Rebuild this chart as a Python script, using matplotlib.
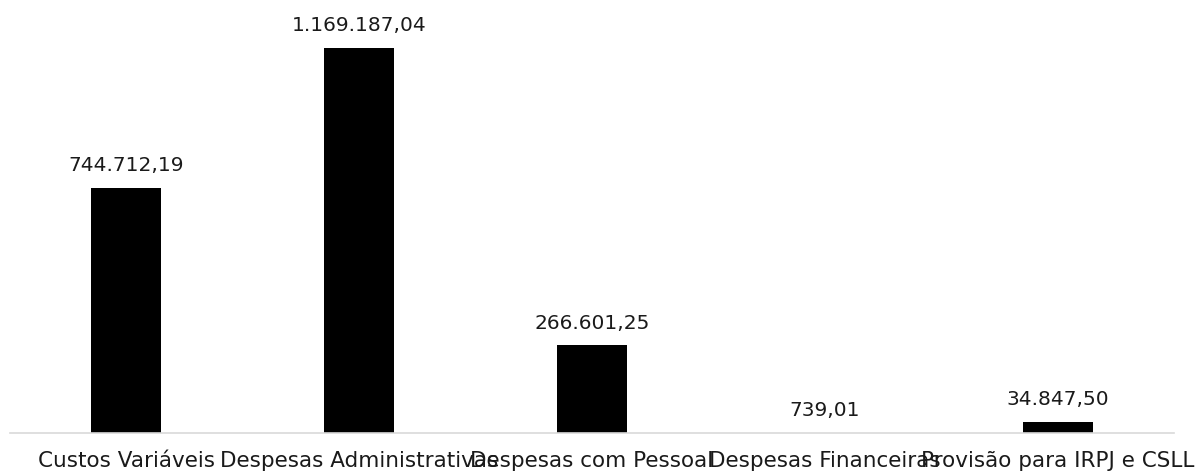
import matplotlib
matplotlib.use("Agg")
import matplotlib.pyplot as plt

categories = ["Custos Variáveis", "Despesas Administrativas", "Despesas com Pessoal",
              "Despesas Financeiras", "Provisão para IRPJ e CSLL"]
values = [744712.19, 1169187.04, 266601.25, 739.01, 34847.50]


def fmt_br(v):
    s = f"{v:,.2f}"
    return s.replace(",", "X").replace(".", ",").replace("X", ".")


plt.rcParams['font.family'] = ['DejaVu Sans']

fig = plt.figure(figsize=(12.02, 4.73), dpi=100)
ax = fig.add_axes([10 / 1202, 40 / 473, 1164 / 1202, 433 / 473])

x = range(len(categories))
bars = ax.bar(x, values, width=0.30, color="black")
ax.set_xlim(-0.5, len(categories) - 0.5)
ax.set_ylim(0, 1169187.04 * 433 / 385)

# value labels above bars
for b, v in zip(bars, values):
    ax.annotate(fmt_br(v), (b.get_x() + b.get_width() / 2, b.get_height()),
                xytext=(0, 12), textcoords="offset points",
                ha="center", va="baseline", fontsize=14.5, color="#1a1a1a")

ax.set_xticks(list(x))
ax.set_xticklabels(categories, fontsize=15.5, color="#1a1a1a")
ax.tick_params(axis="x", length=0, pad=13)
ax.set_yticks([])
for s in ["top", "right", "left"]:
    ax.spines[s].set_visible(False)
ax.spines["bottom"].set_color("#d9d9d9")
ax.spines["bottom"].set_linewidth(1.2)

fig.savefig("out.png", dpi=100)
